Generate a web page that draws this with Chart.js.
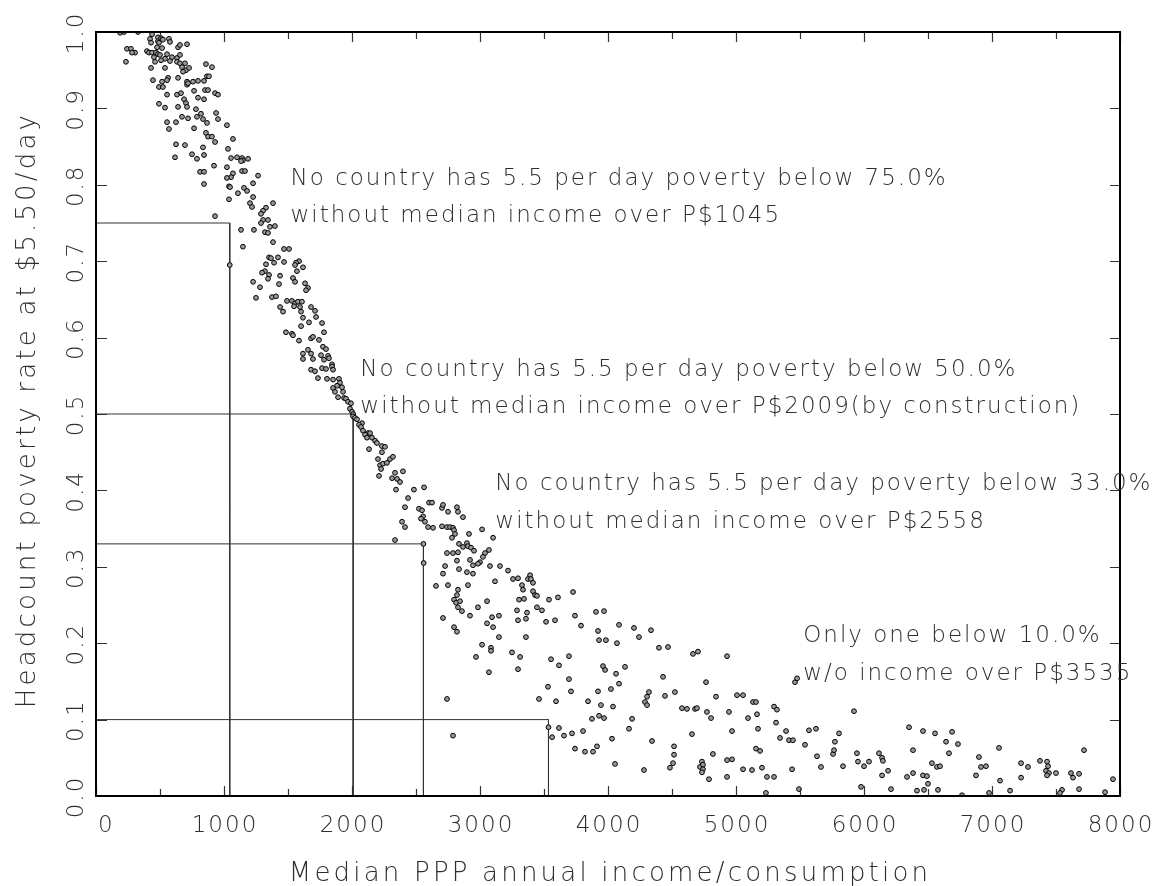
<!DOCTYPE html>
<html>
<head>
<meta charset="utf-8">
<script src="https://cdn.jsdelivr.net/npm/chart.js@4/dist/chart.umd.min.js"></script>
<style>
  html, body { margin: 0; padding: 0; background: #fff; }
  #wrap { width: 1154px; height: 886px; }
</style>
</head>
<body>
<div id="wrap"><canvas id="c" width="1154" height="886"></canvas></div>
<script>
// Axis ticks
const xTickValues = [0, 1000, 2000, 3000, 4000, 5000, 6000, 7000, 8000];
const xMinorTicks = [500, 1500, 2500, 3500, 4500, 5500, 6500, 7500];
const yTickValues = [0, 0.1, 0.2, 0.3, 0.4, 0.5, 0.6, 0.7, 0.8, 0.9, 1.0];
const yTickLabels = ['0.0', '0.1', '0.2', '0.3', '0.4', '0.5', '0.6', '0.7', '0.8', '0.9', '1.0'];

// Poverty levels and the median income each one requires
const povertyLevels = [0.75, 0.50, 0.33, 0.10];
const incomeCutoffs = [1045, 2009, 2558, 3535];

// Country observations: [median PPP annual income, headcount rate at $5.50/day]
const countryPoints = [
  [188,.999],[219,1],[328,1],[438,.997],[484,.993],[422,.991],[430,.986],[508,.992],[523,.99],[484,.988],
  [492,.986],[477,.98],[516,.979],[570,.991],[578,.987],[641,.98],[656,.983],[711,.984],[242,.978],[273,.978],
  [305,.973],[281,.973],[234,.961],[398,.975],[414,.973],[438,.973],[469,.973],[484,.971],[453,.967],[500,.97],
  [555,.971],[539,.965],[508,.963],[594,.967],[578,.962],[633,.966],[656,.97],[633,.961],[656,.959],[695,.959],
  [672,.954],[703,.95],[727,.953],[680,.948],[461,.961],[430,.953],[539,.953],[859,.958],[906,.954],[445,.937],
  [516,.935],[563,.94],[555,.937],[492,.928],[523,.928],[641,.94],[711,.935],[711,.931],[719,.933],[758,.935],
  [797,.936],[844,.936],[867,.942],[883,.942],[555,.918],[633,.918],[664,.92],[766,.923],[852,.924],[875,.924],
  [930,.92],[953,.918],[797,.914],[844,.912],[688,.912],[703,.907],[711,.902],[641,.902],[492,.906],[539,.901],
  [781,.899],[672,.889],[719,.887],[789,.889],[820,.893],[836,.886],[867,.881],[938,.894],[953,.886],[555,.882],
  [570,.873],[625,.882],[766,.874],[1023,.878],[859,.868],[875,.863],[906,.863],[930,.856],[1070,.86],[625,.853],
  [695,.852],[836,.849],[750,.84],[844,.839],[617,.836],[789,.834],[1031,.847],[1055,.835],[1102,.836],[1141,.835],
  [1148,.832],[1188,.834],[1133,.831],[1023,.823],[922,.825],[813,.817],[844,.817],[844,.801],[1070,.815],[1055,.81],
  [1023,.809],[1141,.818],[1164,.818],[1266,.812],[1227,.802],[1039,.798],[1047,.797],[1156,.796],[1180,.792],[1109,.789],
  [1039,.781],[1227,.784],[1203,.776],[1219,.771],[1383,.776],[1328,.77],[1305,.766],[1289,.762],[1344,.754],[1305,.754],
  [1289,.75],[1359,.745],[1398,.746],[1320,.738],[1344,.737],[930,.759],[1133,.741],[1234,.741],[1383,.725],[1148,.719],
  [1469,.716],[1508,.716],
  [1045,.695],[1352,.705],[1367,.704],[1422,.705],[1469,.699],[1586,.7],[1563,.698],[1555,.695],[1617,.692],[1570,.687],
  [1328,.696],[1391,.698],[1320,.687],[1297,.685],[1352,.682],[1344,.677],[1227,.673],[1281,.666],[1438,.681],[1539,.678],
  [1555,.673],[1633,.671],[1656,.665],[1641,.662],[1430,.67],[1250,.652],[1375,.653],[1406,.654],[1492,.648],[1531,.648],
  [1555,.645],[1578,.647],[1609,.647],[1547,.641],[1438,.64],[1461,.634],[1594,.64],[1602,.634],[1680,.64],[1711,.635],
  [1719,.627],[1617,.626],[1664,.62],[1602,.615],[1766,.619],[1781,.607],[1484,.607],[1531,.605],[1539,.603],[1680,.599],
  [1695,.601],[1742,.597],[1586,.596],[1773,.588],[1797,.585],[1656,.584],[1617,.579],[1680,.579],[1758,.577],[1813,.576],
  [1820,.573],[1617,.572],[1695,.572],[1781,.571],[1844,.565],[1766,.56],[1797,.559],[1844,.562],[1852,.558],[1680,.558],
  [1711,.556],[1734,.547],[1805,.546],[1852,.545],[1898,.546],[1906,.541],[1883,.537],[1922,.535],[1852,.534],[1867,.529],
  [1930,.529],[1891,.522],[1938,.521],
  [1953,.52],[1969,.516],[1992,.514],[1984,.507],[2000,.503],[2009,.5],[2008,.497],[2023,.495],[2039,.493],[2078,.488],
  [2055,.486],[2070,.483],[2086,.478],[2125,.475],[2141,.475],[2102,.473],[2117,.469],[2156,.469],[2180,.465],[2195,.462],
  [2234,.458],[2258,.457],[2133,.454],[2234,.45],[2203,.441],[2297,.441],[2320,.444],[2219,.433],[2242,.435],[2273,.436],
  [2227,.428],[2211,.419],[2336,.423],[2398,.425],[2313,.416],[2352,.415],[2375,.411],[2344,.401],[2484,.401],[2563,.404],
  [2438,.39],[2414,.378],[2523,.376],[2547,.374],[2602,.384],[2625,.384],[2555,.366],[2539,.363],[2570,.359],[2391,.359],
  [2414,.352],[2594,.352],[2633,.351],[2703,.377],[2711,.381],[2750,.372],[2820,.378],[2828,.372],[2867,.365],[2703,.353],
  [2742,.352],[2766,.352],[2789,.351],[2797,.348],[2805,.343],[2781,.338],[3016,.349],[2914,.343],[3102,.338],[2336,.335],
  [2558,.33],[2560,.305],[2836,.33],[2898,.331],[2906,.327],[2867,.326],[2930,.325],[2953,.321],[2828,.319],[2789,.318],
  [2742,.318],[3070,.322],[3039,.318],[3023,.313],[3000,.306],[2984,.304],[2922,.309],[2820,.308],[2945,.302],[2836,.297],
  [2898,.293],[2945,.291],[2727,.301],[2711,.291],[2656,.275],[2750,.276],[2906,.276],[3078,.301],[3156,.301],[3219,.295],
  [3117,.281],[3258,.284],[3297,.285],[3328,.276],[3336,.27],[3305,.257],[3344,.258],[3391,.289],[3375,.284],[3398,.284],
  [3414,.279],[3414,.268],[3430,.263],[3445,.262],[3445,.247],[3484,.243],[3539,.257],[3609,.26],[3055,.255],[2984,.247],
  [2828,.27],[2820,.263],[2797,.257],[2813,.253],[2828,.247],[2859,.242],[2844,.255],[2922,.236],[2711,.233],[2797,.221],
  [3094,.234],[3148,.236],[3289,.243],[3367,.24],[3297,.23],[3359,.232],[3516,.228],[3586,.23],[3055,.226],[3102,.221],
  [2820,.215],[3148,.208],[3359,.208],
  [3727,.267],[3742,.236],[3789,.223],[3906,.241],[3969,.242],[3922,.216],[3930,.204],[3984,.204],[4070,.2],[4086,.224],
  [4203,.22],[4242,.208],[4336,.217],[4398,.194],[4469,.195],[4664,.186],[4703,.189],[3016,.198],[3086,.194],[3086,.19],
  [2969,.182],[3070,.162],[3250,.188],[3313,.182],[3297,.166],[3555,.179],[3617,.171],[3695,.183],[3695,.153],[3711,.137],
  [3531,.143],[3461,.127],[3594,.124],[3961,.17],[3977,.165],[4063,.16],[4086,.147],[4133,.169],[4023,.14],[3922,.137],
  [3844,.124],[3945,.119],[4039,.117],[3930,.105],[3969,.102],[3875,.101],[4188,.101],[4164,.088],[4320,.136],[4305,.13],
  [4289,.123],[4305,.119],[4430,.156],[4445,.131],[4523,.136],[4578,.115],[4617,.114],[4680,.114],[4695,.115],[2742,.127],
  [2789,.079],[3535,.09],[3563,.077],[3617,.089],[3656,.079],[3719,.082],[3805,.085],[3742,.062],[3820,.058],[3883,.058],
  [3914,.065],[4031,.075],[4055,.042],[4281,.034],[4344,.072],[4516,.065],[4516,.054],[4508,.043],[4484,.037],[4656,.081],
  [4719,.038],
  [4930,.183],[4766,.149],[4844,.13],[5008,.132],[5055,.132],[5133,.123],[5156,.123],[4773,.11],[4805,.102],[4945,.11],
  [5094,.102],[5164,.107],[5297,.117],[5320,.113],[5313,.096],[5172,.088],[4969,.085],[4820,.055],[4734,.045],[4742,.041],
  [4742,.035],[4734,.031],[4789,.022],[4930,.047],[4969,.048],[4930,.025],[5055,.035],[5125,.034],[5156,.062],[5188,.059],
  [5203,.037],[5242,.025],[5297,.025],[5234,.004],[5344,.076],[5391,.085],[5414,.073],[5445,.073],[5438,.035],[5461,.149],
  [5477,.154],[5492,.009],[5539,.067],[5570,.086],[5625,.088],[5633,.052],[5664,.038],[5758,.055],[5766,.06],[5773,.071],
  [5805,.082],[5836,.039],[5922,.111],[5945,.056],[5953,.045],[6000,.039],[6039,.045],[5977,.012],[6117,.056],[6141,.05],
  [6148,.046],[6141,.027],[6188,.033],[6211,.009],[6352,.09],[6383,.06],[6336,.025],[6383,.03],[6414,.007],[6461,.085],
  [6461,.027],[6492,.026],[6469,.008],[6500,.016],[6531,.043],[6555,.082],[6570,.038],[6578,.008],
  [6688,.084],[6641,.071],[6664,.056],[6734,.068],[6594,.039],[6766,.001],[6898,.051],[6914,.038],[6953,.039],[6875,.027],
  [7055,.063],[7063,.02],[6977,.004],[7141,.007],[7227,.043],[7281,.038],[7227,.024],[7375,.046],[7430,.045],[7438,.039],
  [7422,.033],[7445,.03],[7430,.027],[7500,.03],[7547,.008],[7531,.004],[7617,.03],[7633,.024],[7680,.029],[7680,.009],
  [7719,.06],[7883,.005],[7945,.022]
];

// Text blocks beside each cutoff: anchor in data units (x, baseline of the second line)
const noteAnchors = [
  { x: 1520, y: 0.751 },
  { x: 2065, y: 0.501 },
  { x: 3120, y: 0.351 },
  { x: 5525, y: 0.152 }
];

function noteLines(i) {
  const pct = (povertyLevels[i] * 100).toFixed(1) + '%';
  const inc = 'P$' + incomeCutoffs[i];
  if (i === 3) return ['Only one below ' + pct, 'w/o income over ' + inc];
  return [
    'No country has 5.5 per day poverty below ' + pct,
    'without median income over ' + inc + (i === 1 ? '(by construction)' : '')
  ];
}

const FONT_FAMILY = '"DejaVu Sans", "Liberation Sans", sans-serif';
const TEXT_FONT = '200 23px ' + FONT_FAMILY;
const TITLE_FONT = '200 26px ' + FONT_FAMILY;
const TEXT_COLOR = '#2e2e2e';

const frameAndText = {
  id: 'frameAndText',
  afterDatasetsDraw(chart) {
    const { ctx, chartArea: a, scales: { x, y } } = chart;
    ctx.save();

    // inward tick marks on all four sides
    ctx.strokeStyle = '#333';
    ctx.lineWidth = 1.2;
    ctx.beginPath();
    xTickValues.forEach(v => {
      const px = Math.round(x.getPixelForValue(v)) + 0.5;
      ctx.moveTo(px, a.bottom); ctx.lineTo(px, a.bottom - 10);
      ctx.moveTo(px, a.top); ctx.lineTo(px, a.top + 10);
    });
    xMinorTicks.forEach(v => {
      const px = Math.round(x.getPixelForValue(v)) + 0.5;
      ctx.moveTo(px, a.bottom); ctx.lineTo(px, a.bottom - 7);
      ctx.moveTo(px, a.top); ctx.lineTo(px, a.top + 7);
    });
    yTickValues.forEach(v => {
      const py = Math.round(y.getPixelForValue(v)) + 0.5;
      ctx.moveTo(a.left, py); ctx.lineTo(a.left + 11, py);
      ctx.moveTo(a.right, py); ctx.lineTo(a.right - 10, py);
    });
    ctx.stroke();

    // plot frame
    ctx.strokeStyle = '#000';
    ctx.lineWidth = 2;
    ctx.strokeRect(a.left, a.top, a.right - a.left, a.bottom - a.top);

    ctx.fillStyle = TEXT_COLOR;
    ctx.font = TEXT_FONT;
    ctx.letterSpacing = '2px';
    ctx.textBaseline = 'alphabetic';

    // x tick labels
    xTickValues.forEach((v, i) => {
      const px = x.getPixelForValue(v);
      ctx.textAlign = i === 0 ? 'left' : 'center';
      ctx.fillText(String(v), i === 0 ? px + 2 : px + 1, a.bottom + 36);
    });

    // y tick labels, rotated
    yTickValues.forEach((v, i) => {
      const py = y.getPixelForValue(v);
      ctx.save();
      ctx.translate(a.left - 13, py + 1);
      ctx.rotate(-Math.PI / 2);
      ctx.textAlign = 'center';
      ctx.fillText(yTickLabels[i], 0, 0);
      ctx.restore();
    });

    // notes beside each cutoff
    ctx.textAlign = 'left';
    noteAnchors.forEach((n, i) => {
      const px = x.getPixelForValue(n.x);
      const py = y.getPixelForValue(n.y);
      const lines = noteLines(i);
      ctx.fillText(lines[0], px, py - 37.5);
      ctx.fillText(lines[1], px, py);
    });

    // axis titles
    ctx.font = TITLE_FONT;
    ctx.letterSpacing = '3.2px';
    ctx.textAlign = 'center';
    ctx.fillText('Median PPP annual income/consumption', (a.left + a.right) / 2 + 2, a.bottom + 85);
    ctx.save();
    ctx.translate(35, (a.top + a.bottom) / 2 - 4);
    ctx.rotate(-Math.PI / 2);
    ctx.fillText('Headcount poverty rate at $5.50/day', 0, 0);
    ctx.restore();

    ctx.restore();
  }
};

const cutoffSets = povertyLevels.map((lvl, i) => ({
  data: [{ x: 0, y: lvl }, { x: incomeCutoffs[i], y: lvl }, { x: incomeCutoffs[i], y: 0 }],
  showLine: true,
  borderColor: '#333',
  borderWidth: 1,
  pointRadius: 0,
  tension: 0
}));

new Chart(document.getElementById('c'), {
  type: 'scatter',
  data: {
    datasets: [
      {
        data: countryPoints.map(([inc, rate]) => ({ x: inc, y: rate })),
        pointStyle: 'circle',
        pointRadius: 2.4,
        borderWidth: 1,
        borderColor: '#000',
        backgroundColor: '#9a9a9a'
      },
      ...cutoffSets
    ]
  },
  options: {
    responsive: false,
    animation: false,
    events: [],
    devicePixelRatio: 1,
    layout: { padding: { left: 96, right: 34, top: 32, bottom: 90 } },
    plugins: { legend: { display: false }, tooltip: { enabled: false } },
    scales: {
      x: { type: 'linear', min: 0, max: 8000, display: false },
      y: { type: 'linear', min: 0, max: 1, display: false }
    }
  },
  plugins: [frameAndText]
});
</script>
</body>
</html>
